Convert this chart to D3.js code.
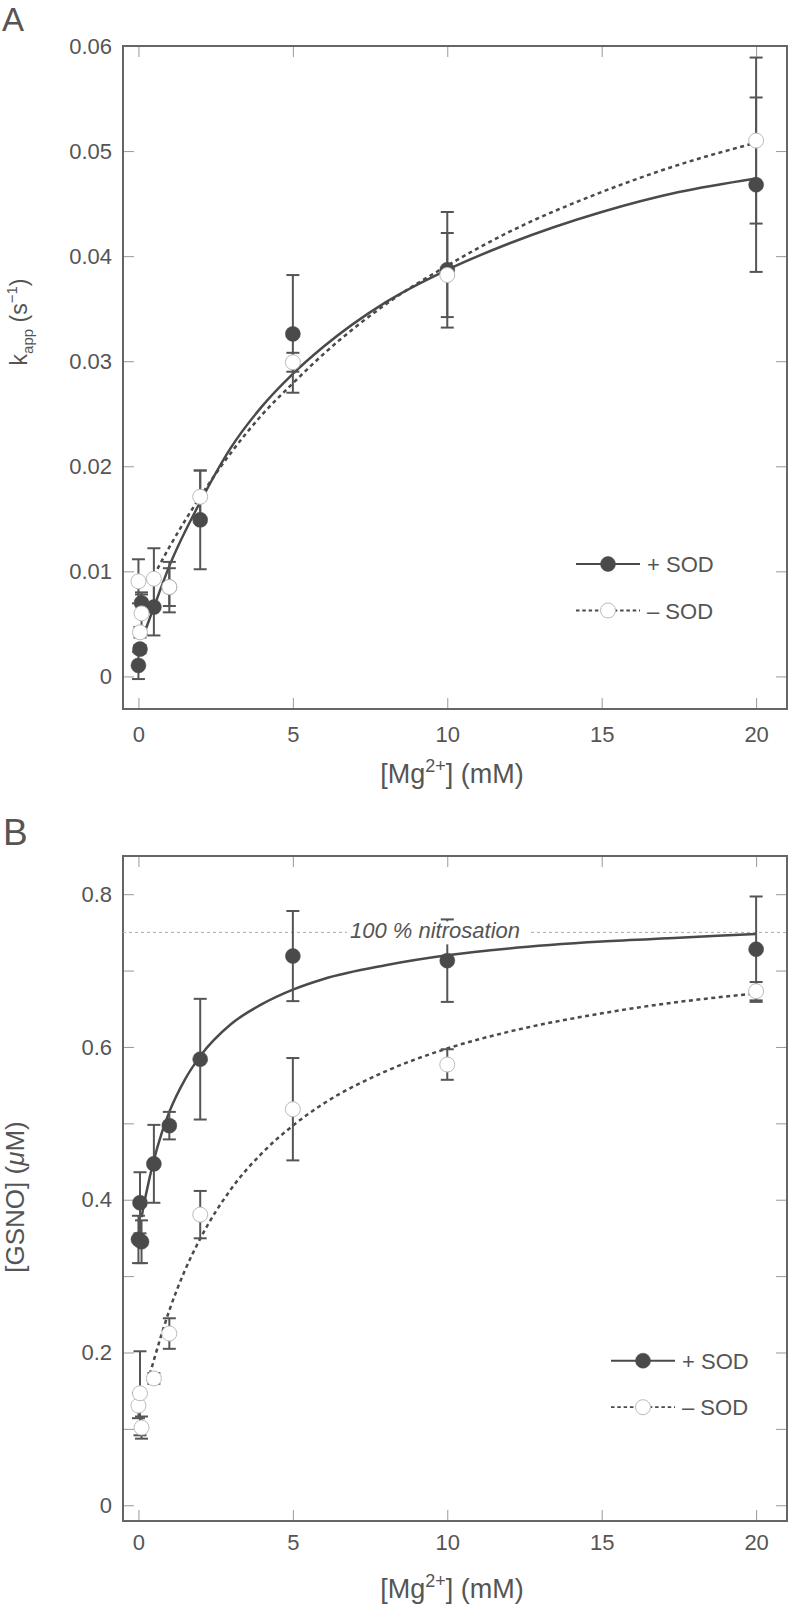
<!DOCTYPE html>
<html><head><meta charset="utf-8">
<script src="https://cdn.jsdelivr.net/npm/d3@7"></script>
<style>
body{margin:0;background:#fff}
svg{display:block}
text{font-family:"Liberation Sans",Arial,Helvetica,sans-serif}
</style>
</head><body>
<svg id="c" width="790" height="1605"></svg>
<script>
// ---------- data ----------
const xTicks = [0, 5, 10, 15, 20];
const xTickLabels = ["0", "5", "10", "15", "20"];

const aYTicks = [0, 0.01, 0.02, 0.03, 0.04, 0.05, 0.06];
const aYTickLabels = ["0", "0.01", "0.02", "0.03", "0.04", "0.05", "0.06"];
const bYTicks = [0, 0.1, 0.2, 0.3, 0.4, 0.5, 0.6, 0.7, 0.8];
const bYTickLabels = ["0", "", "0.2", "", "0.4", "", "0.6", "", "0.8"];

const mgConc = [0, 0.05, 0.1, 0.5, 1, 2, 5, 10, 20];

// Panel A: k_app (s^-1)
const aPlusSOD = [0.00105, 0.0026, 0.0070, 0.0066, 0.0085, 0.0149, 0.0326, 0.0387, 0.0468];
const aPlusErr = [0.0013, 0.0004, 0.0008, 0.0027, 0.0024, 0.0047, 0.0056, 0.0055, 0.0083];
const aMinusSOD = [0.00905, 0.0042, 0.0060, 0.0093, 0.0085, 0.0171, 0.0299, 0.0382, 0.0510];
const aMinusErr = [0.0021, 0.0005, 0.0020, 0.0029, 0.0018, 0.0025, 0.0009, 0.0040, 0.0079];

const fitAPlusX = [0.2, 0.5, 1, 2, 3, 4, 5, 6, 8, 10, 12, 15, 17.5, 20];
const fitAPlusY = [0.0042, 0.0066, 0.0105, 0.0166, 0.0218, 0.0257, 0.0288, 0.0314, 0.0356, 0.0387, 0.0412, 0.0442, 0.0461, 0.0474];
const fitAMinusX = [0.5, 1, 2, 3, 4, 5, 6, 8, 10, 12, 15, 17.5, 20];
const fitAMinusY = [0.0096, 0.0123, 0.0171, 0.0213, 0.0249, 0.0279, 0.0307, 0.0354, 0.0391, 0.0423, 0.0461, 0.0487, 0.0508];

// Panel B: [GSNO] (uM)
const bPlusSOD = [0.348, 0.396, 0.345, 0.447, 0.497, 0.584, 0.719, 0.713, 0.728];
const bPlusErr = [0.031, 0.040, 0.028, 0.051, 0.018, 0.079, 0.059, 0.054, 0.069];
const bMinusSOD = [0.1305, 0.1466, 0.1017, 0.166, 0.2248, 0.3805, 0.5185, 0.577, 0.673];
const bMinusErr = [0.0165, 0.055, 0.0145, 0.007, 0.020, 0.031, 0.067, 0.020, 0.012];

const fitBPlusX = [0.1, 0.25, 0.5, 0.75, 1, 1.5, 2, 3, 4, 5, 6, 8, 10, 12, 15, 17.5, 20];
const fitBPlusY = [0.377, 0.408, 0.452, 0.487, 0.515, 0.557, 0.588, 0.630, 0.656, 0.675, 0.689, 0.707, 0.720, 0.729, 0.738, 0.743, 0.748];
const fitBMinusX = [0.3, 0.5, 0.75, 1, 1.5, 2, 3, 4, 5, 6, 8, 10, 12, 15, 17.5, 20];
const fitBMinusY = [0.162, 0.190, 0.224, 0.255, 0.307, 0.349, 0.414, 0.461, 0.497, 0.526, 0.568, 0.598, 0.620, 0.644, 0.659, 0.670];

const fullNitrosation = 0.75;
const legendLabels = ["+ SOD", "\u2013 SOD"];

// ---------- drawing ----------
const svg = d3.select("#c");
const INK = "#4a4a4a", TXT = "#555", FRAME = "#666", TICK = "#999";
const FS = 22;      // tick / legend text
const TFS = 27;     // axis titles

function drawPanel(cfg) {
  const g = svg.append("g");
  const x = d3.scaleLinear().domain([-0.5, 21]).range([123, 787]);
  const y = d3.scaleLinear().domain(cfg.yDomain).range([cfg.bottom, cfg.top]);
  const L = 123, R = 787, T = cfg.top, B = cfg.bottom;

  const clipId = "clip" + cfg.id;
  svg.append("clipPath").attr("id", clipId).append("rect")
    .attr("x", L).attr("y", T).attr("width", R - L).attr("height", B - T);

  const styleAxis = (sel) => {
    sel.select(".domain").remove();
    sel.selectAll(".tick line").attr("stroke", TICK).attr("stroke-width", 1);
    sel.selectAll(".tick text").attr("fill", TXT).style("font-size", FS + "px")
      .style("font-family", '"Liberation Sans",Arial,sans-serif');
  };
  g.append("g").attr("transform", `translate(0,${B})`)
    .call(d3.axisBottom(x).tickValues(xTicks).tickSize(-11).tickPadding(cfg.xPad)
      .tickFormat((d, i) => xTickLabels[i]))
    .call(styleAxis);
  g.append("g").attr("transform", `translate(0,${T})`)
    .call(d3.axisTop(x).tickValues(xTicks).tickSize(-11).tickFormat(""))
    .call(styleAxis);
  g.append("g").attr("transform", `translate(${L},0)`)
    .call(d3.axisLeft(y).tickValues(cfg.yTicks).tickSize(-11).tickPadding(11)
      .tickFormat((d, i) => cfg.yLabels[i]))
    .call(styleAxis);
  g.append("g").attr("transform", `translate(${R},0)`)
    .call(d3.axisRight(y).tickValues(cfg.yTicks).tickSize(-11).tickFormat(""))
    .call(styleAxis);

  g.append("rect").attr("x", L).attr("y", T).attr("width", R - L).attr("height", B - T)
    .attr("fill", "none").attr("stroke", FRAME).attr("stroke-width", 2);

  const plot = g.append("g").attr("clip-path", `url(#${clipId})`);

  if (cfg.refLine !== undefined) {
    plot.append("line").attr("x1", L).attr("x2", R)
      .attr("y1", y(cfg.refLine)).attr("y2", y(cfg.refLine))
      .attr("stroke", "#aaa").attr("stroke-width", 1).attr("stroke-dasharray", "3,3");
  }

  const line = d3.line().x(d => x(d[0])).y(d => y(d[1])).curve(d3.curveMonotoneX);
  plot.append("path").datum(cfg.fitPlusX.map((v, i) => [v, cfg.fitPlusY[i]]))
    .attr("d", line).attr("fill", "none").attr("stroke", INK).attr("stroke-width", 2.5);
  plot.append("path").datum(cfg.fitMinusX.map((v, i) => [v, cfg.fitMinusY[i]]))
    .attr("d", line).attr("fill", "none").attr("stroke", INK).attr("stroke-width", 2.5)
    .attr("stroke-dasharray", "4,3.5");

  const series = [
    {vals: cfg.plus, err: cfg.plusErr, filled: true},
    {vals: cfg.minus, err: cfg.minusErr, filled: false}
  ];
  series.forEach(s => {
    const eb = plot.append("g").attr("stroke", "#555").attr("stroke-width", 2);
    mgConc.forEach((c, i) => {
      const cx = x(c), y1 = y(s.vals[i] + s.err[i]), y2 = y(s.vals[i] - s.err[i]);
      eb.append("line").attr("x1", cx).attr("x2", cx).attr("y1", y1).attr("y2", y2);
      eb.append("line").attr("x1", cx - 6.5).attr("x2", cx + 6.5).attr("y1", y1).attr("y2", y1);
      eb.append("line").attr("x1", cx - 6.5).attr("x2", cx + 6.5).attr("y1", y2).attr("y2", y2);
    });
  });

  if (cfg.refLine !== undefined) {
    g.append("rect").attr("x", 347).attr("y", y(cfg.refLine) - 11).attr("width", 182).attr("height", 23)
      .attr("fill", "#fff");
    g.append("text").attr("x", 350).attr("y", y(cfg.refLine) + 5.5)
      .attr("fill", TXT).style("font-size", "22px").style("font-style", "italic")
      .text("100 % nitrosation");
  }

  series.forEach(s => {
    plot.append("g").selectAll("circle").data(s.vals).join("circle")
      .attr("cx", (d, i) => x(mgConc[i])).attr("cy", d => y(d)).attr("r", 7.5)
      .attr("fill", s.filled ? INK : "#fff")
      .attr("stroke", s.filled ? INK : "#bbb").attr("stroke-width", s.filled ? 0.5 : 1);
  });

  const lg = g.append("g");
  [0, 1].forEach(k => {
    const ly = cfg.legY + k * 46.5;
    lg.append("line").attr("x1", cfg.legX - 32).attr("x2", cfg.legX + 32).attr("y1", ly).attr("y2", ly)
      .attr("stroke", INK).attr("stroke-width", k ? 1.8 : 2)
      .attr("stroke-dasharray", k ? "3.5,2.8" : null);
    lg.append("circle").attr("cx", cfg.legX).attr("cy", ly).attr("r", 7.5)
      .attr("fill", k ? "#fff" : INK).attr("stroke", k ? "#bbb" : INK).attr("stroke-width", k ? 1 : 0.5);
    lg.append("text").attr("x", cfg.legX + 39).attr("y", ly + 8).attr("fill", TXT)
      .style("font-size", FS + "px").text(legendLabels[k]);
  });

  const xt = g.append("text").attr("x", 452).attr("y", cfg.xTitleY).attr("text-anchor", "middle")
    .attr("fill", TXT).style("font-size", TFS + "px");
  xt.append("tspan").text("[Mg");
  xt.append("tspan").attr("dy", -11).style("font-size", "18px").text("2+");
  xt.append("tspan").attr("dy", 11).text("] (mM)");

  g.append("text").attr("x", cfg.letterX).attr("y", cfg.letterY).attr("fill", TXT)
    .style("font-size", cfg.letterSize + "px").text(cfg.letter);

  return {g, x, y};
}

// Panel A
const A = drawPanel({
  id: "A", top: 46, bottom: 709, yDomain: [-0.0031, 0.06],
  yTicks: aYTicks, yLabels: aYTickLabels, xPad: 17,
  plus: aPlusSOD, plusErr: aPlusErr, minus: aMinusSOD, minusErr: aMinusErr,
  fitPlusX: fitAPlusX, fitPlusY: fitAPlusY, fitMinusX: fitAMinusX, fitMinusY: fitAMinusY,
  legX: 608, legY: 564, xTitleY: 783,
  letter: "A", letterX: 2, letterY: 30.5, letterSize: 33
});
const yta = A.g.append("text").attr("transform", "translate(27,322) rotate(-90)")
  .attr("text-anchor", "middle").attr("fill", TXT).style("font-size", "23px");
yta.append("tspan").text("k");
yta.append("tspan").attr("dy", 6).style("font-size", "15px").text("app");
yta.append("tspan").attr("dy", -6).text(" (s");
yta.append("tspan").attr("dy", -10).style("font-size", "15px").text("\u22121");
yta.append("tspan").attr("dy", 10).text(")");

// Panel B
const Bp = drawPanel({
  id: "B", top: 856, bottom: 1521, yDomain: [-0.0206, 0.85],
  yTicks: bYTicks, yLabels: bYTickLabels, xPad: 13,
  plus: bPlusSOD, plusErr: bPlusErr, minus: bMinusSOD, minusErr: bMinusErr,
  fitPlusX: fitBPlusX, fitPlusY: fitBPlusY, fitMinusX: fitBMinusX, fitMinusY: fitBMinusY,
  refLine: fullNitrosation,
  legX: 643, legY: 1360.7, xTitleY: 1598,
  letter: "B", letterX: 3, letterY: 845, letterSize: 37
});
const ytb = Bp.g.append("text").attr("transform", "translate(24,1197) rotate(-90)")
  .attr("text-anchor", "middle").attr("fill", TXT).style("font-size", "26px");
ytb.append("tspan").text("[GSNO] (");
ytb.append("tspan").style("font-style", "italic").text("\u03bc");
ytb.append("tspan").text("M)");
</script>
</body></html>
